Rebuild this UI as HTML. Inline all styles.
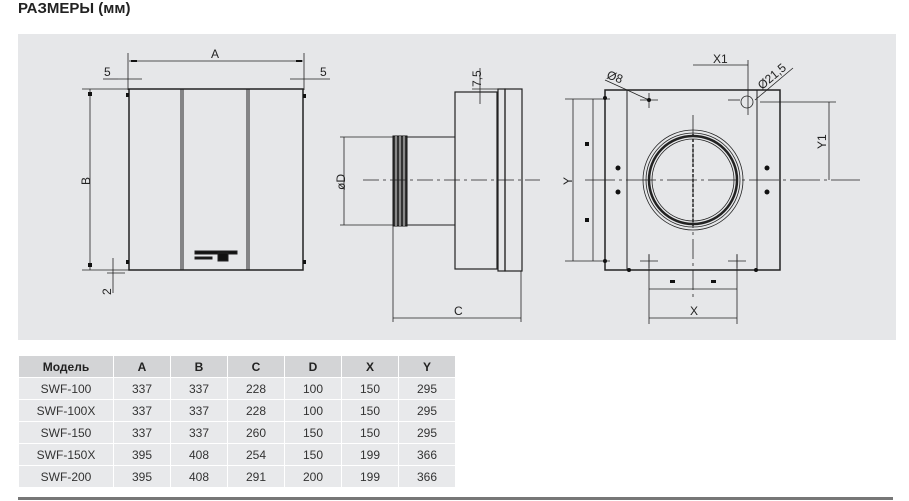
<!DOCTYPE html>
<html><head><meta charset="utf-8"><style>
body{margin:0;width:909px;height:501px;background:#fff;position:relative;overflow:hidden;font-family:"Liberation Sans",sans-serif}
.t{position:absolute;left:18px;top:0px;font-weight:bold;font-size:15px;color:#222}
table{position:absolute;left:18px;top:355px;border-collapse:collapse;font-size:12px;color:#333}
td{width:56px;height:21px;padding:0;text-align:center;background:#e8e9eb;border:1px solid #fff}
td:first-child{width:94px}
tr:first-child td{background:#d3d4d6;font-weight:bold;color:#222}
.ln{position:absolute;left:18px;top:497px;width:875px;height:3px;background:#777}
</style></head><body>
<div class="t">РАЗМЕРЫ (мм)</div>
<svg style="position:absolute;left:0;top:0" width="909" height="345" font-family="Liberation Sans, sans-serif" font-size="12" fill="none" stroke="#222">
<rect x="18" y="34" width="878" height="306" fill="#e6e7e9" stroke="none"/>
<!-- left view -->
<rect x="129" y="89" width="174" height="181" stroke-width="1.5"/>
<line x1="181" y1="89" x2="181" y2="270"/><line x1="183" y1="89" x2="183" y2="270"/>
<line x1="247" y1="89" x2="247" y2="270"/><line x1="249" y1="89" x2="249" y2="270"/>
<rect x="195" y="251" width="42" height="3" fill="#111"/><rect x="195" y="257" width="17" height="2" fill="#111"/><rect x="218" y="253" width="10" height="8" fill="#111"/>
<g stroke-width="0.8">
<line x1="128" y1="53" x2="128" y2="90"/><line x1="304" y1="53" x2="304" y2="90"/>
<line x1="129" y1="61" x2="303" y2="61"/>
<line x1="118" y1="79" x2="142" y2="79"/><line x1="290" y1="79" x2="330" y2="79"/><line x1="103" y1="79" x2="118" y2="79"/>
<line x1="82" y1="89" x2="129" y2="89"/><line x1="82" y1="270" x2="129" y2="270"/>
<line x1="90" y1="89" x2="90" y2="270"/>
<line x1="113" y1="258" x2="113" y2="293"/><line x1="107" y1="273" x2="125" y2="273"/>
</g>
<g fill="#111" stroke="none"><rect x="88" y="92" width="4" height="4"/><rect x="88" y="263" width="4" height="4"/><rect x="131" y="60" width="6" height="2"/><rect x="296" y="60" width="6" height="2"/>
<rect x="126" y="93" width="3" height="4"/><rect x="303" y="94" width="3" height="4"/><rect x="126" y="260" width="3" height="4"/><rect x="303" y="260" width="3" height="4"/></g>
<g fill="#222" stroke="none"><text x="211" y="58">A</text><text x="104" y="76">5</text><text x="320" y="76">5</text>
<text transform="translate(90,185) rotate(-90)">B</text><text transform="translate(111,295) rotate(-90)">2</text></g>
<!-- side view -->
<rect x="455" y="92" width="42" height="177" stroke-width="1.2"/>
<rect x="498" y="89" width="7" height="182" stroke-width="1.2"/>
<rect x="505" y="89" width="17" height="182" stroke-width="1.2"/>
<rect x="407" y="137" width="48" height="88" stroke-width="1"/>
<rect x="393" y="136" width="14" height="90" fill="#333" stroke="#111"/>
<line x1="396" y1="136" x2="396" y2="226" stroke="#ddd"/><line x1="400" y1="136" x2="400" y2="226" stroke="#ddd"/><line x1="404" y1="136" x2="404" y2="226" stroke="#ddd"/>
<line x1="363" y1="180" x2="540" y2="180" stroke-width="0.8" stroke-dasharray="16 4 3 4"/>
<g stroke-width="0.8"><line x1="340" y1="137" x2="393" y2="137"/><line x1="340" y1="225" x2="393" y2="225"/><line x1="344" y1="137" x2="344" y2="225"/>
<line x1="393" y1="226" x2="393" y2="322"/><line x1="521" y1="271" x2="521" y2="322"/><line x1="393" y1="318" x2="521" y2="318"/>
<line x1="480" y1="68" x2="480" y2="104"/><line x1="472" y1="89" x2="498" y2="89"/></g>
<g fill="#222" stroke="none"><text transform="translate(345,190) rotate(-90)">øD</text><text x="454" y="315">C</text><text transform="translate(481,87) rotate(-90)">7,5</text></g>
<!-- front view -->
<rect x="605" y="90" width="175" height="180" stroke-width="1.5"/>
<line x1="627" y1="90" x2="627" y2="270"/><line x1="757" y1="90" x2="757" y2="270"/>
<circle cx="693" cy="180" r="50" stroke-width="0.8"/><circle cx="693" cy="180" r="47" stroke-width="0.8"/>
<circle cx="693" cy="180" r="44" stroke-width="2.5"/><circle cx="693" cy="180" r="41" stroke-width="0.8"/>
<line x1="693" y1="134" x2="693" y2="226" stroke-dasharray="3 2" stroke-width="1.5"/>
<g stroke-width="0.8"><line x1="693" y1="115" x2="693" y2="300" stroke-dasharray="20 4 3 4"/><line x1="585" y1="180" x2="860" y2="180" stroke-dasharray="30 4 3 4"/>
<line x1="565" y1="99" x2="610" y2="99"/><line x1="565" y1="261" x2="610" y2="261"/><line x1="573" y1="99" x2="573" y2="261"/><line x1="593" y1="99" x2="593" y2="261"/>
<line x1="760" y1="102" x2="836" y2="102"/><line x1="829" y1="102" x2="829" y2="180"/>
<line x1="649" y1="255" x2="649" y2="324"/><line x1="737" y1="255" x2="737" y2="324"/><line x1="649" y1="318" x2="737" y2="318"/><line x1="649" y1="289" x2="737" y2="289"/>
<line x1="693" y1="65" x2="748" y2="65"/><line x1="748" y1="60" x2="748" y2="115"/>
<line x1="605" y1="80" x2="649" y2="100"/><line x1="755" y1="100" x2="793" y2="68"/>
<line x1="640" y1="100" x2="658" y2="100"/><line x1="649" y1="93" x2="649" y2="108"/><line x1="728" y1="100" x2="740" y2="100"/>
<line x1="640" y1="261" x2="658" y2="261"/><line x1="649" y1="254" x2="649" y2="268"/><line x1="728" y1="261" x2="746" y2="261"/><line x1="737" y1="254" x2="737" y2="268"/></g>
<circle cx="747" cy="102" r="6" stroke-width="0.8"/>
<g fill="#111" stroke="none"><circle cx="618" cy="168" r="2.5"/><circle cx="618" cy="192" r="2.5"/><circle cx="767" cy="168" r="2.5"/><circle cx="767" cy="192" r="2.5"/>
<rect x="585" y="142" width="4" height="4"/><rect x="585" y="218" width="4" height="4"/><rect x="670" y="280" width="5" height="3"/><rect x="711" y="280" width="5" height="3"/>
<circle cx="649" cy="100" r="2"/><circle cx="605" cy="98" r="2"/><circle cx="605" cy="261" r="2"/><circle cx="629" cy="270" r="2"/><circle cx="756" cy="270" r="2"/></g>
<g fill="#222" stroke="none"><text x="713" y="63">X1</text><text x="690" y="315">X</text>
<text transform="translate(572,185) rotate(-90)">Y</text><text transform="translate(826,149) rotate(-90)">Y1</text>
<text transform="translate(606,78) rotate(20)">Ø8</text><text transform="translate(762,90) rotate(-40)">Ø21,5</text></g>
</svg>
<table>
<tr><td>Модель</td><td>A</td><td>B</td><td>C</td><td>D</td><td>X</td><td>Y</td></tr>
<tr><td>SWF-100</td><td>337</td><td>337</td><td>228</td><td>100</td><td>150</td><td>295</td></tr>
<tr><td>SWF-100X</td><td>337</td><td>337</td><td>228</td><td>100</td><td>150</td><td>295</td></tr>
<tr><td>SWF-150</td><td>337</td><td>337</td><td>260</td><td>150</td><td>150</td><td>295</td></tr>
<tr><td>SWF-150X</td><td>395</td><td>408</td><td>254</td><td>150</td><td>199</td><td>366</td></tr>
<tr><td>SWF-200</td><td>395</td><td>408</td><td>291</td><td>200</td><td>199</td><td>366</td></tr>
</table>
<div class="ln"></div>
</body></html>
